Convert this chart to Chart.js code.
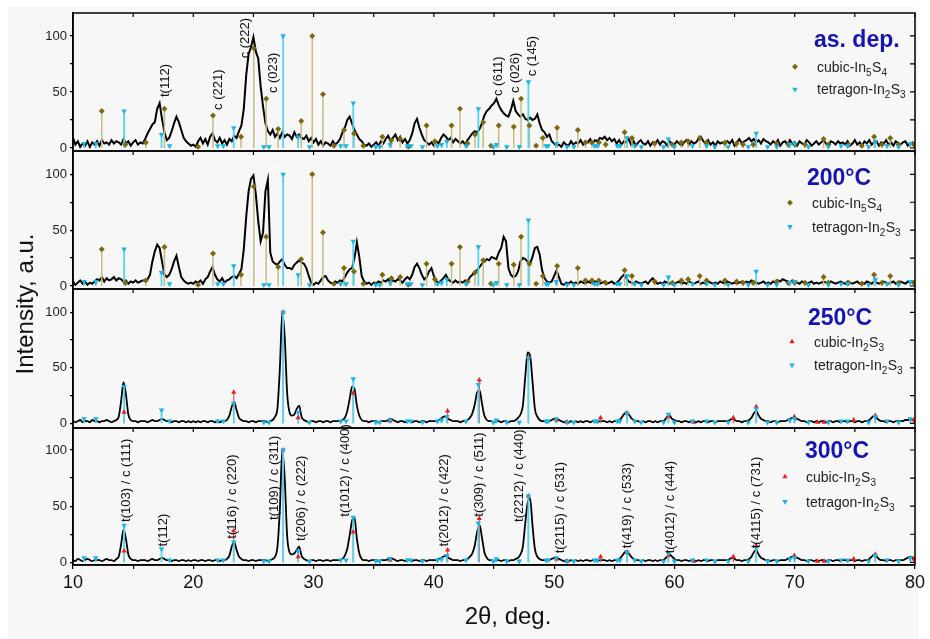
<!DOCTYPE html>
<html><head><meta charset="utf-8">
<script src="https://cdn.jsdelivr.net/npm/chart.js@4.4.1/dist/chart.umd.min.js"></script>
<style>
html,body{margin:0;padding:0;background:#fff;}
#wrap{position:relative;width:930px;height:639px;overflow:hidden;}
#bg{position:absolute;left:8px;top:7px;width:910px;height:632px;background:#f7f7f7;}
canvas{position:absolute;left:0;top:0;}
</style></head><body>
<div id="wrap"><div id="bg"></div>
<canvas id="c1" width="930" height="639"></canvas>
<canvas id="c2" width="930" height="639"></canvas>
<canvas id="c3" width="930" height="639"></canvas>
<canvas id="c4" width="930" height="639"></canvas>
</div>
<script>
// ---- data ----
const thetaStart = 10, thetaStep = 0.2;   // 2θ grid of the measured patterns (10 … 80 deg)

const asDep = [
 9, 3, 6, 1, 4, 2, 6, 1, 5, 3,
 6, 2, 7, 4, 5, 3, 7, 4, 6, 5,
 3, 8, 4, 6, 2, 5, 7, 3, 5, 4,
 8, 13, 17, 21, 23, 35, 40, 26, 14, 7,
 9, 15, 22, 28, 23, 16, 9, 6, 4, 2,
 3, 1, 6, 9, 4, 8, 3, 10, 13, 7,
 5, 9, 4, 7, 3, 8, 6, 11, 9, 15,
 20, 35, 65, 84, 90, 99, 86, 80, 55, 37,
 22, 15, 12, 16, 10, 13, 9, 14, 10, 12,
 11, 8, 14, 10, 12, 9, 8, 11, 6, 9,
 5, 8, 3, 6, 2, 5, 4, 2, 6, 3,
 5, 8, 14, 18, 25, 28, 22, 16, 12, 8,
 6, 3, 2, 4, 1, 3, 5, 2, 6, 4,
 8, 11, 6, 9, 12, 7, 10, 5, 8, 4,
 7, 13, 22, 26, 18, 12, 7, 5, 3, 5,
 2, 6, 4, 9, 12, 10, 7, 9, 5, 8,
 6, 4, 6, 3, 7, 10, 13, 15, 14, 17,
 22, 29, 33, 35, 38, 40, 44, 38, 34, 31,
 29, 28, 34, 42, 33, 30, 28, 30, 26, 25,
 27, 25, 26, 30, 22, 16, 14, 10, 12, 6,
 4, 2, 3, 1, 5, 3, 2, 6, 3, 5,
 4, 7, 3, 6, 5, 8, 4, 7, 6, 9,
 8, 10, 7, 9, 6, 8, 4, 7, 3, 6,
 5, 8, 3, 6, 2, 5, 7, 4, 3, 6,
 2, 5, 4, 7, 3, 6, 5, 2, 6, 4,
 3, 6, 4, 2, 5, 7, 3, 6, 4, 5,
 8, 10, 6, 4, 7, 3, 5, 2, 6, 4,
 5, 3, 6, 4, 7, 2, 5, 8, 4, 6,
 7, 9, 6, 8, 5, 7, 4, 8, 6, 5,
 3, 6, 4, 7, 2, 5, 6, 3, 7, 4,
 5, 2, 6, 4, 3, 7, 5, 2, 4, 6,
 3, 5, 7, 4, 2, 6, 5, 3, 6, 4,
 5, 3, 6, 2, 4, 7, 3, 5, 2, 6,
 4, 7, 3, 5, 6, 2, 5, 4, 7, 3,
 5, 2, 6, 4, 3, 5, 6, 2, 4, 5,
 3
];

const t200 = [
 4, 1, 3, 5, 2, 4, 1, 3, 2, 4,
 6, 5, 8, 4, 7, 5, 6, 8, 5, 7,
 6, 4, 5, 2, 4, 3, 5, 3, 4, 5,
 5, 6, 10, 22, 31, 37, 34, 22, 10, 8,
 10, 15, 22, 27, 17, 8, 5, 3, 2, 3,
 2, 4, 3, 5, 2, 6, 8, 13, 17, 10,
 6, 4, 7, 3, 5, 6, 8, 9, 7, 11,
 15, 33, 62, 85, 96, 99, 82, 58, 40, 48,
 85, 95, 30, 22, 20, 19, 22, 24, 19, 16,
 16, 15, 19, 21, 23, 21, 20, 16, 9, 3,
 1, 3, 2, 5, 8, 9, 5, 3, 2, 4,
 3, 5, 4, 8, 12, 15, 16, 25, 39, 26,
 9, 4, 2, 3, 1, 3, 2, 4, 3, 5,
 4, 6, 3, 5, 4, 6, 5, 3, 6, 8,
 6, 10, 17, 20, 16, 10, 6, 8, 13, 16,
 9, 4, 3, 5, 7, 10, 6, 4, 3, 5,
 3, 4, 3, 5, 4, 8, 10, 12, 14, 17,
 20, 22, 24, 23, 26, 25, 24, 30, 34, 44,
 40, 16, 10, 8, 9, 13, 22, 25, 24, 22,
 20, 26, 34, 35, 28, 14, 7, 4, 3, 4,
 9, 14, 8, 2, 1, 3, 2, 4, 2, 3,
 2, 4, 3, 2, 4, 3, 2, 4, 3, 2,
 3, 4, 2, 3, 4, 2, 3, 5, 8, 10,
 7, 4, 3, 2, 4, 3, 2, 3, 4, 2,
 5, 7, 4, 2, 3, 2, 4, 3, 2, 3,
 2, 3, 4, 2, 3, 2, 4, 3, 2, 3,
 4, 2, 3, 2, 4, 3, 2, 3, 2, 4,
 3, 2, 4, 3, 2, 3, 2, 3, 4, 3,
 4, 3, 5, 4, 3, 2, 3, 4, 2, 3,
 2, 4, 3, 5, 4, 6, 5, 4, 3, 5,
 4, 3, 2, 4, 3, 2, 3, 4, 2, 3,
 2, 3, 4, 3, 2, 4, 3, 2, 3, 4,
 3, 2, 4, 3, 2, 3, 4, 2, 3, 2,
 4, 3, 2, 4, 3, 2, 3, 4, 3, 2,
 3, 4, 2, 3, 4, 3, 2, 4, 3, 4,
 3
];

const t250 = [
 2, 1, 2, 3, 1, 2, 2, 1, 3, 2,
 2, 1, 2, 2, 3, 2, 1, 2, 3, 6,
 20, 37, 26, 8, 3, 2, 2, 1, 2, 2,
 2, 1, 2, 3, 2, 2, 3, 4, 3, 2,
 2, 1, 2, 2, 1, 2, 2, 1, 2, 1,
 2, 1, 2, 1, 2, 2, 1, 2, 2, 1,
 2, 1, 2, 2, 3, 7, 15, 19, 12, 5,
 3, 2, 2, 1, 2, 2, 1, 2, 2, 2,
 2, 1, 2, 3, 6, 14, 50, 100, 78, 28,
 10, 7, 8, 13, 16, 6, 3, 2, 1, 2,
 2, 1, 2, 2, 1, 2, 2, 1, 2, 2,
 2, 2, 3, 5, 11, 22, 33, 31, 16, 7,
 3, 2, 2, 1, 2, 2, 2, 1, 2, 2,
 2, 3, 4, 3, 2, 1, 2, 2, 1, 2,
 2, 1, 2, 2, 1, 2, 2, 1, 2, 2,
 2, 2, 3, 4, 6, 6, 4, 3, 2, 2,
 2, 1, 2, 2, 3, 5, 9, 17, 28, 30,
 18, 7, 3, 2, 2, 1, 2, 2, 1, 2,
 2, 1, 2, 2, 3, 5, 8, 16, 42, 64,
 61, 38, 13, 6, 3, 2, 2, 1, 2, 3,
 4, 4, 3, 2, 1, 2, 1, 2, 1, 2,
 1, 2, 1, 2, 2, 1, 2, 2, 1, 2,
 2, 2, 1, 2, 1, 2, 2, 3, 5, 8,
 10, 8, 5, 3, 2, 2, 1, 2, 1, 2,
 2, 1, 2, 1, 2, 2, 3, 6, 7, 4,
 3, 2, 2, 1, 2, 2, 1, 2, 2, 1,
 2, 1, 2, 2, 1, 2, 2, 1, 2, 2,
 2, 2, 2, 3, 4, 3, 2, 2, 1, 2,
 2, 3, 5, 9, 11, 7, 4, 3, 2, 2,
 1, 2, 2, 1, 2, 2, 2, 3, 4, 5,
 5, 4, 3, 2, 2, 1, 2, 2, 1, 2,
 1, 2, 2, 1, 2, 2, 1, 2, 2, 1,
 2, 2, 1, 2, 2, 1, 2, 2, 1, 2,
 2, 3, 5, 7, 5, 3, 2, 2, 1, 2,
 2, 1, 2, 2, 2, 2, 3, 3, 4, 3,
 2
];

const t300 = [
 2, 1, 3, 2, 1, 2, 3, 2, 1, 2,
 2, 2, 1, 2, 3, 2, 2, 1, 3, 5,
 16, 29, 21, 7, 3, 2, 2, 1, 2, 2,
 2, 1, 2, 3, 2, 2, 3, 4, 3, 2,
 2, 1, 2, 2, 1, 2, 2, 1, 2, 1,
 2, 2, 1, 2, 2, 1, 2, 2, 1, 2,
 2, 1, 2, 2, 3, 6, 14, 18, 11, 5,
 3, 2, 2, 1, 2, 2, 1, 2, 2, 2,
 2, 1, 2, 3, 5, 14, 48, 100, 75, 24,
 9, 7, 8, 11, 14, 6, 3, 2, 1, 2,
 2, 1, 2, 2, 1, 2, 2, 1, 2, 2,
 2, 2, 3, 6, 12, 24, 37, 40, 21, 8,
 3, 2, 2, 1, 2, 2, 2, 1, 2, 2,
 2, 3, 4, 3, 2, 1, 2, 2, 1, 2,
 2, 1, 2, 2, 1, 2, 2, 1, 2, 2,
 2, 2, 3, 4, 5, 6, 4, 3, 2, 2,
 2, 1, 2, 2, 3, 5, 8, 15, 27, 33,
 22, 9, 4, 2, 2, 1, 2, 2, 1, 2,
 2, 1, 2, 2, 3, 4, 7, 14, 35, 53,
 57, 33, 12, 5, 3, 2, 2, 1, 2, 3,
 4, 4, 3, 2, 1, 2, 1, 2, 1, 2,
 1, 2, 1, 2, 2, 1, 2, 2, 1, 2,
 2, 2, 1, 2, 1, 2, 2, 3, 5, 8,
 10, 8, 5, 3, 2, 2, 1, 2, 1, 2,
 2, 1, 2, 1, 2, 2, 3, 5, 7, 5,
 3, 2, 2, 1, 2, 2, 1, 2, 2, 1,
 2, 1, 2, 2, 1, 2, 2, 1, 2, 2,
 2, 2, 2, 3, 4, 3, 2, 2, 1, 2,
 2, 3, 5, 9, 11, 7, 4, 3, 2, 2,
 1, 2, 2, 1, 2, 2, 2, 3, 4, 5,
 5, 4, 3, 2, 2, 1, 2, 2, 1, 2,
 1, 2, 2, 1, 2, 2, 1, 2, 2, 1,
 2, 2, 1, 2, 2, 1, 2, 2, 1, 2,
 2, 3, 5, 7, 5, 3, 2, 2, 1, 2,
 2, 1, 2, 2, 2, 2, 3, 4, 5, 4,
 2
];

// reference patterns (stick positions in 2θ and relative intensities)
const tetraPos = [10.92, 11.9, 14.25, 17.36, 18.03, 22.03, 22.5, 23.36, 25.86, 26.3, 27.47, 28.72, 29.67, 32.25, 32.7, 33.3,
  35.17, 35.5, 36.36, 37.8, 38.1, 39.05, 40.3, 40.64, 41.08, 42.67, 43.7, 44.94, 45.2, 46.06, 47.1, 47.86, 49.33, 49.5,
  50.17, 51.08, 51.64, 53.36, 53.58, 55.25, 55.47, 56.06, 56.7, 57.25, 59.1, 59.5, 60.0, 61.5, 62.67, 63.36, 64.47,
  66.14, 66.8, 67.75, 68.5, 69.6, 70.0, 71.14, 72.8, 73.86, 74.4, 76.14, 76.7, 77.67, 78.64, 79.6];
const tetraInt = [4, 4, 33, 12, 2, 2, 2, 18, 1, 1, 100, 10, 1, 2, 2, 40,
  1, 1, 3, 2, 2, 1, 2, 3, 6, 2, 35, 1, 3, 1, 1, 59, 2, 2,
  4, 1, 1, 2, 2, 2, 2, 9, 2, 1, 1, 8, 1, 2, 2, 1, 1,
  1, 13, 1, 1, 3, 4, 1, 1, 2, 2, 1, 6, 2, 1, 4];

const cubIn5S4Pos = [12.39, 14.36, 16.05, 17.6, 20.4, 21.64, 23.97, 25.03, 26.06, 27.06, 28.97, 29.89, 30.78, 31.7, 32.53,
  33.36, 34.14, 35.72, 36.47, 37.2, 37.86, 39.39, 40.08, 41.47, 42.17, 42.8, 43.42, 44.1, 44.75, 45.39, 46.64, 47.25,
  47.94, 48.5, 49.06, 50.25, 51.97, 52.6, 53.14, 53.72, 54.28, 55.86, 56.47, 58.36, 59.83, 60.58, 61.14, 62.1, 62.67,
  64.2, 65.17, 65.7, 66.56, 68.5, 69.47, 70.0, 70.86, 72.4, 72.8, 74.47, 75.58, 76.6, 77.25, 77.94, 78.64, 79.9];
const cubIn5S4Int = [33, 3, 5, 35, 1, 29, 10, 89, 44, 17, 24, 100, 48, 2, 16,
  13, 2, 10, 7, 8, 1, 20, 6, 20, 35, 4, 12, 23, 2, 20, 19, 44,
  20, 2, 9, 18, 16, 5, 5, 5, 3, 14, 9, 4, 3, 5, 6, 9, 5,
  5, 4, 3, 3, 4, 3, 3, 3, 8, 3, 3, 2, 10, 3, 9, 3, 3];

const cubIn2S3Pos = [14.25, 23.36, 27.47, 28.72, 33.3, 36.36, 41.14, 43.78, 47.86, 50.2, 51.08, 53.86, 56.06, 59.5,
  61.6, 64.9, 66.8, 69.97, 71.9, 72.45, 74.9, 76.7, 79.9];
const cubIn2S3Int = [10, 28, 100, 5, 27, 2, 11, 39, 59, 3, 1, 5, 9, 6,
  1, 5, 15, 6, 1, 1, 3, 7, 3];

const yTickValues = [0, 25, 50, 75, 100];
const yTickLabelled = [0, 50, 100];
const xTickValues = [10, 15, 20, 25, 30, 35, 40, 45, 50, 55, 60, 65, 70, 75, 80];
const xTickLabelled = [10, 20, 30, 40, 50, 60, 70, 80];

const labelsAsDep = ['t(112)', 'c (221)', 'c (222)', 'c (023)', 'c (611)', 'c (026)', 'c (145)'];
const labelsAsDepX = [17.67, 22.08, 24.33, 26.67, 45.39, 46.8, 48.17];
const labelsAsDepY = [45.5, 34, 80, 49, 46.4, 49, 64];

const labels300 = ['t(103) / c (111)', 't(112)', 't(116) / c (220)', 't(109) / c (311)', 't(206) / c (222)',
  't(1012) / c (400)', 't(2012) / c (422)', 't(309) / c (511)', 't(2212) / c (440)', 't(2115) / c (531)',
  't(419) / c (533)', 't(4012) / c (444)', 't(4115) / c (731)'];
const labels300X = [14.42, 17.53, 23.22, 26.75, 29.0, 32.67, 40.9, 43.78, 47.1, 50.56, 56.11, 59.67, 66.8];
const labels300Y = [36, 14, 21, 37.7, 19, 40.6, 14, 40.6, 36, 8, 12.5, 8, 12.5];

// ---- styles ----
const FONT = '"Liberation Sans", Arial, Helvetica, sans-serif';
Chart.defaults.font.family = FONT;
Chart.defaults.animation = false;

const refOlive = {pos: cubIn5S4Pos, val: cubIn5S4Int, stick: '#c9bb80', mark: '#7d690a', shape: 'rectRot', rot: 0, r: 3, bw: 1.5,
  stickOrder: 2.5, markOrder: 1.5, parts: [['cubic-In', 0], ['5', 1], ['S', 0], ['4', 1]]};
const refCyan = {pos: tetraPos, val: tetraInt, stick: '#55d4f2', mark: '#16b6e8', shape: 'triangle', rot: 180, r: 3.2, bw: 1.8,
  stickOrder: 2, markOrder: 1, parts: [['tetragon-In', 0], ['2', 1], ['S', 0], ['3', 1]]};
const refRed = {pos: cubIn2S3Pos, val: cubIn2S3Int, stick: '#f05050', mark: '#ee1c1c', shape: 'triangle', rot: 0, r: 3, bw: 1.2,
  stickOrder: 2.5, markOrder: 1.5, parts: [['cubic-In', 0], ['2', 1], ['S', 0], ['3', 1]]};

function drawMarker(ctx, ref, x, y) {
  ctx.save();
  ctx.fillStyle = ref.mark; ctx.strokeStyle = ref.mark;
  if (Chart.helpers && Chart.helpers.drawPoint) {
    Chart.helpers.drawPoint(ctx, {pointStyle: ref.shape, rotation: ref.rot, radius: ref.r, borderWidth: 0}, x, y);
  }
  ctx.restore();
}

const decor = {
  id: 'decor',
  afterDatasetsDraw(chart, args, o) {
    const ctx = chart.ctx, xs = chart.scales.x, ys = chart.scales.y;
    ctx.save();
    // peak annotations
    ctx.fillStyle = '#111';
    ctx.font = '13px ' + FONT;
    ctx.textAlign = 'left'; ctx.textBaseline = 'middle';
    (o.labels || []).forEach((t, i) => {
      ctx.save();
      ctx.translate(xs.getPixelForValue(o.labelsX[i]), ys.getPixelForValue(o.labelsY[i]));
      ctx.rotate(-Math.PI / 2);
      ctx.fillText(t, 0, 0);
      ctx.restore();
    });
    // panel title
    ctx.textBaseline = 'alphabetic';
    ctx.fillStyle = '#1414b4';
    ctx.font = 'bold 23px ' + FONT;
    ctx.fillText(o.title, o.titleX, o.titleY);
    // legend
    o.legend.forEach((ref, k) => {
      const y = o.legendY[k];
      drawMarker(ctx, ref, o.legendMarkX, y);
      let x = o.legendTextX;
      ctx.fillStyle = '#222';
      ref.parts.forEach(([s, sub]) => {
        ctx.font = (sub ? '10px ' : '14px ') + FONT;
        ctx.fillText(s, x, y + 5 + (sub ? 4 : 0));
        x += ctx.measureText(s).width + (sub ? 0.5 : 0);
      });
    });
    ctx.restore();
  },
  afterDraw(chart, args, o) {
    const ctx = chart.ctx, a = chart.chartArea, xs = chart.scales.x, ys = chart.scales.y;
    ctx.save();
    ctx.strokeStyle = '#000';
    ctx.lineWidth = 1.5;
    ctx.strokeRect(a.left, a.top, a.right - a.left, a.bottom - a.top);
    ctx.lineWidth = 1.2;
    ctx.beginPath();
    yTickValues.forEach(v => {
      const y = ys.getPixelForValue(v);
      ctx.moveTo(a.right, y); ctx.lineTo(a.right - 5, y);
    });
    xTickValues.forEach(v => {
      const x = xs.getPixelForValue(v);
      ctx.moveTo(x, a.top); ctx.lineTo(x, a.top + 4);
    });
    ctx.stroke();
    if (o.axisTitles) {
      ctx.fillStyle = '#111';
      ctx.font = '24px ' + FONT;
      ctx.textAlign = 'center'; ctx.textBaseline = 'alphabetic';
      ctx.fillText('2\u03B8, deg.', 508, 624);
      ctx.save();
      ctx.translate(33, 304);
      ctx.rotate(-Math.PI / 2);
      ctx.fillText('Intensity, a.u.', 0, 0);
      ctx.restore();
    }
    ctx.restore();
  }
};

function makePanel(canvasId, p) {
  const pattern = p.values.map((v, i) => ({x: thetaStart + i * thetaStep, y: v}));
  const datasets = [{
    type: 'line', data: pattern, borderColor: '#000', borderWidth: p.lw, pointRadius: 0,
    cubicInterpolationMode: p.mono ? 'monotone' : 'default', tension: 0, order: 3
  }];
  p.refs.forEach(ref => {
    const sticks = [], tops = [];
    ref.pos.forEach((x, i) => {
      sticks.push({x: x, y: 0}, {x: x, y: ref.val[i]}, {x: x, y: null});
      tops.push({x: x, y: ref.val[i]});
    });
    datasets.push({type: 'line', data: sticks, borderColor: ref.stick, borderWidth: ref.bw, pointRadius: 0,
      spanGaps: false, borderCapStyle: 'butt', order: ref.stickOrder});
    datasets.push({type: 'line', data: tops, showLine: false, pointStyle: ref.shape, rotation: ref.rot,
      pointRadius: ref.r, pointBackgroundColor: ref.mark, pointBorderColor: ref.mark, pointBorderWidth: 0, order: ref.markOrder});
  });
  const showX = !!p.showX;
  new Chart(document.getElementById(canvasId), {
    type: 'line',
    data: {datasets},
    options: {
      responsive: false, devicePixelRatio: 1, events: [],
      layout: {autoPadding: false, padding: {left: 0, right: 15, top: p.top, bottom: showX ? 0 : 639 - p.bottom}},
      plugins: {legend: {display: false}, tooltip: {enabled: false},
        decor: {labels: p.labels, labelsX: p.labelsX, labelsY: p.labelsY, title: p.title, titleX: p.titleX, titleY: p.titleY,
          legend: p.refs, legendY: p.legendY, legendMarkX: p.legendMarkX, legendTextX: p.legendTextX, axisTitles: showX}},
      scales: {
        x: {
          type: 'linear', min: 10, max: 80, offset: false, display: showX,
          afterBuildTicks: s => { s.ticks = xTickValues.map(v => ({value: v})); },
          afterFit: s => { if (showX) s.height = 639 - p.bottom; },
          ticks: {autoSkip: false, maxRotation: 0, padding: 3, color: '#111', font: {size: 18},
            callback: v => xTickLabelled.includes(v) ? String(v) : ''},
          grid: {drawOnChartArea: false, drawTicks: true, tickLength: 4, color: '#000', lineWidth: 1.2, offset: false},
          border: {display: true, color: '#000', width: 1.5}
        },
        y: {
          type: 'linear', min: p.yMin, max: p.yMax, stacked: false,
          afterBuildTicks: s => { s.ticks = yTickValues.map(v => ({value: v})); },
          afterFit: s => { s.width = 73; },
          ticks: {autoSkip: false, padding: 3, color: '#222', font: {size: 13},
            callback: v => yTickLabelled.includes(v) ? String(v) : ''},
          grid: {drawOnChartArea: false, drawTicks: true, tickLength: 3, color: '#000', lineWidth: 1.2},
          border: {display: true, color: '#000', width: 1.5}
        }
      }
    },
    plugins: [decor]
  });
}

makePanel('c1', {values: asDep, top: 13, bottom: 151, yMin: -2.7, yMax: 120.5, lw: 2, mono: false,
  refs: [refOlive, refCyan], title: 'as. dep.', titleX: 814, titleY: 46.5,
  legendY: [66.7, 89.3], legendMarkX: 795, legendTextX: 817,
  labels: labelsAsDep, labelsX: labelsAsDepX, labelsY: labelsAsDepY});
makePanel('c2', {values: t200, top: 151, bottom: 289, yMin: -2.7, yMax: 120.9, lw: 2, mono: false,
  refs: [refOlive, refCyan], title: '200\u00B0C', titleX: 807, titleY: 184.5,
  legendY: [202.7, 226.7], legendMarkX: 790, legendTextX: 812});
makePanel('c3', {values: t250, top: 289, bottom: 428, yMin: -4.2, yMax: 121, lw: 1.8, mono: true,
  refs: [refRed, refCyan], title: '250\u00B0C', titleX: 808, titleY: 324.5,
  legendY: [341.7, 365], legendMarkX: 792, legendTextX: 814});
makePanel('c4', {values: t300, top: 428, bottom: 565, yMin: -2.4, yMax: 119.6, lw: 1.8, mono: true, showX: true,
  refs: [refRed, refCyan], title: '300\u00B0C', titleX: 805, titleY: 457.5,
  legendY: [476.7, 501.5], legendMarkX: 785, legendTextX: 806,
  labels: labels300, labelsX: labels300X, labelsY: labels300Y});
</script>
</body></html>
